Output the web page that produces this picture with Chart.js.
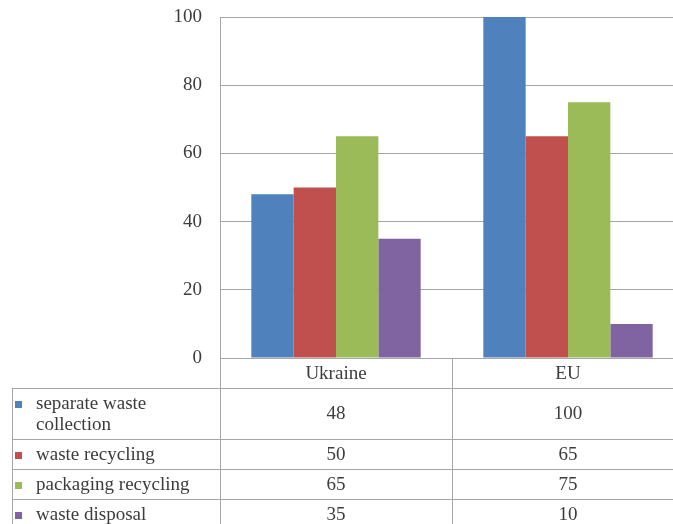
<!DOCTYPE html>
<html>
<head>
<meta charset="utf-8">
<script src="https://cdn.jsdelivr.net/npm/chart.js@4/dist/chart.umd.min.js"></script>
<style>
  html, body { margin: 0; padding: 0; background: #fff; overflow: hidden; }
  canvas { display: block; }
</style>
</head>
<body>
<canvas id="chart" width="686" height="524"></canvas>
<script>
// Chart data
const categories = ['Ukraine', 'EU'];
const seriesNames = ['separate waste collection', 'waste recycling', 'packaging recycling', 'waste disposal'];
const separateCollection = [48, 100];
const wasteRecycling = [50, 65];
const packagingRecycling = [65, 75];
const wasteDisposal = [35, 10];
const yTicks = [0, 20, 40, 60, 80, 100];

const seriesValues = [separateCollection, wasteRecycling, packagingRecycling, wasteDisposal];
const colors = ['#4F81BD', '#C0504D', '#9BBB59', '#8064A2'];

const FAMILY = '"Liberation Serif", "Times New Roman", serif';
const FONT = '19px ' + FAMILY;
const TEXT = '#3c3c3c';
const LINE = '#a6a6a6';

// data table drawn under the plot, columns follow the category scale
const dataTable = {
  id: 'dataTable',
  afterDraw(chart) {
    const ctx = chart.ctx;
    const area = chart.chartArea;
    const n = categories.length;
    const colW = (area.right - area.left) / n;
    const tableLeft = 12, labelX = 36, lineH = 21;
    const legendW = area.left - labelX - 12;

    ctx.save();
    ctx.font = FONT;

    // wrap legend labels to the first column
    const rows = seriesNames.map(name => {
      const words = name.split(' '); const lines = []; let cur = '';
      words.forEach(w => {
        const t = cur ? cur + ' ' + w : w;
        if (ctx.measureText(t).width > legendW && cur) { lines.push(cur); cur = w } else cur = t;
      });
      lines.push(cur);
      return lines;
    });

    const headTop = Math.round(area.bottom);
    const headBottom = headTop + 30;
    let y = headBottom;
    const rowTops = [];
    const rowH = lines => 9 + lines.length * lineH;
    rows.forEach(lines => { rowTops.push(y); y += rowH(lines) });
    const bottom = y;

    ctx.strokeStyle = LINE; ctx.lineWidth = 1;
    ctx.beginPath();
    rowTops.forEach(t => { ctx.moveTo(tableLeft, t + 0.5); ctx.lineTo(area.right, t + 0.5) });
    ctx.moveTo(tableLeft + 0.5, headBottom); ctx.lineTo(tableLeft + 0.5, bottom);
    for (let k = 0; k <= n; k++) {
      const x = Math.round(area.left + k * colW) + 0.5;
      ctx.moveTo(x, headTop); ctx.lineTo(x, bottom);
    }
    ctx.stroke();

    ctx.fillStyle = TEXT; ctx.textBaseline = 'middle';
    // header: category names
    ctx.textAlign = 'center';
    categories.forEach((c, i) => ctx.fillText(c, chart.scales.x.getPixelForValue(i), (headTop + headBottom) / 2 + 1));

    rows.forEach((lines, r) => {
      const top = rowTops[r];
      const h = rowH(lines);
      const first = top + 4.5 + lineH / 2 + 1;
      ctx.fillStyle = colors[r];
      ctx.fillRect(15, Math.round(first) - 3, 7, 7);
      ctx.fillStyle = TEXT; ctx.textAlign = 'left';
      lines.forEach((l, j) => ctx.fillText(l, labelX, first + j * lineH));
      ctx.textAlign = 'center';
      seriesValues[r].forEach((v, i) => ctx.fillText(String(v), chart.scales.x.getPixelForValue(i), top + h / 2 + 1));
    });
    ctx.restore();
  }
};

new Chart(document.getElementById('chart'), {
  type: 'bar',
  data: {
    labels: categories,
    datasets: seriesNames.map((name, i) => ({
      label: name,
      data: seriesValues[i],
      backgroundColor: colors[i],
      borderWidth: 0,
      barPercentage: 1,
      categoryPercentage: 0.73
    }))
  },
  options: {
    responsive: false,
    animation: false,
    devicePixelRatio: 1,
    layout: { padding: { top: 17, right: 2, bottom: 166, left: 0 } },
    plugins: { legend: { display: false }, tooltip: { enabled: false } },
    scales: {
      x: { display: false },
      y: {
        min: 0, max: 100,
        afterBuildTicks: s => { s.ticks = yTicks.map(v => ({ value: v })) },
        afterFit: s => { s.width = 220; s.paddingTop = 0; s.paddingBottom = 0 },
        ticks: { color: TEXT, font: { family: FAMILY, size: 19 }, padding: 18 },
        grid: { color: LINE, drawTicks: false },
        border: { color: LINE }
      }
    }
  },
  plugins: [dataTable]
});
</script>
</body>
</html>
